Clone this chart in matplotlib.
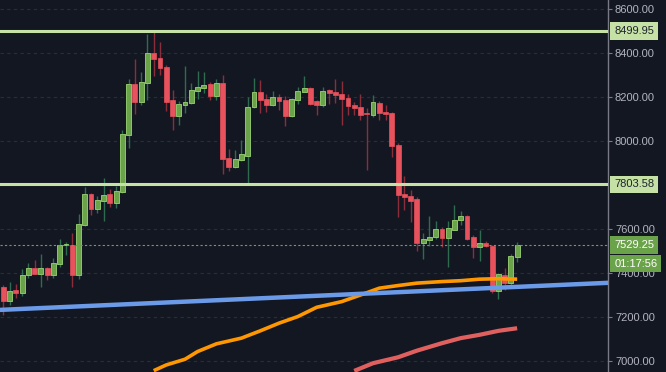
import matplotlib
matplotlib.use("Agg")
import matplotlib.pyplot as plt
from matplotlib.patches import Rectangle

# OHLC de las velas
opens = [7338, 7274, 7324, 7312, 7392, 7424, 7398, 7424, 7392, 7444,
         7527, 7527, 7392, 7621, 7760, 7692, 7729, 7760, 7720, 7770,
         8029, 8260, 8179, 8265, 8401, 8379, 8338, 8188, 8115, 8165,
         8174, 8229, 8242, 8260, 8206, 8265, 7924, 7883, 7915, 7933,
         8156, 8224, 8192, 8165, 8201, 8188, 8115, 8188, 8224, 8242,
         8183, 8165, 8233, 8224, 8215, 8197, 8165, 8156, 8124, 8120,
         8174, 8133, 8129, 7983, 7760, 7751, 7738, 7538, 7551, 7565,
         7601, 7560, 7597, 7642, 7661, 7565, 7520, 7538, 7524, 7320,
         7392, 7356, 7474]
closes = [7274, 7320, 7312, 7392, 7424, 7398, 7424, 7392, 7445, 7527,
          7528, 7392, 7624, 7760, 7692, 7733, 7756, 7720, 7774, 8033,
          8260, 8179, 8270, 8401, 8374, 8333, 8179, 8115, 8170, 8179,
          8233, 8247, 8256, 8206, 8265, 7920, 7883, 7920, 7942, 8156,
          8224, 8188, 8165, 8201, 8183, 8115, 8192, 8229, 8242, 8170,
          8165, 8229, 8220, 8210, 8192, 8161, 8151, 8120, 8123, 8179,
          8129, 8124, 7979, 7756, 7747, 7729, 7538, 7556, 7565, 7601,
          7560, 7606, 7642, 7661, 7556, 7520, 7538, 7524, 7320, 7397,
          7356, 7479, 7529.25]
highs = [7345, 7360, 7351, 7418, 7445, 7460, 7488, 7428, 7471, 7556,
         7542, 7585, 7670, 7792, 7765, 7751, 7833, 7783, 7797, 8051,
         8283, 8374, 8315, 8488, 8497, 8452, 8345, 8233, 8183, 8342,
         8265, 8320, 8315, 8270, 8283, 8301, 7965, 7960, 8006, 8202,
         8288, 8279, 8215, 8229, 8215, 8206, 8198, 8247, 8297, 8247,
         8188, 8247, 8238, 8283, 8274, 8215, 8179, 8215, 8151, 8210,
         8183, 8165, 8133, 7990, 7842, 7779, 7745, 7583, 7661, 7638,
         7610, 7638, 7711, 7683, 7665, 7574, 7597, 7545, 7530, 7400,
         7424, 7488, 7542]
lows = [7210, 7256, 7289, 7297, 7380, 7395, 7339, 7370, 7380, 7430,
        7483, 7339, 7375, 7615, 7665, 7676, 7639, 7701, 7697, 7765,
        7970, 8124, 8165, 8188, 8297, 8302, 8138, 8051, 8074, 8129,
        8170, 8192, 8220, 8188, 8188, 7851, 7865, 7880, 7910, 7806,
        8150, 8129, 8133, 8160, 8142, 8069, 8110, 8170, 8235, 8165,
        8120, 8156, 8170, 8174, 8074, 8120, 8120, 8097, 7869, 8110,
        8097, 8097, 7929, 7656, 7688, 7633, 7501, 7465, 7524, 7555,
        7520, 7429, 7597, 7620, 7550, 7470, 7456, 7517, 7310, 7283,
        7324, 7340, 7451]

# niveles horizontales y precio actual
niveles = [8499.95, 7803.58]
precio_actual = 7529.25
cuenta_atras = "01:17:56"

# linea de tendencia (dos puntos)
tend_x = [0, 82]
tend_y = [7234, 7338]

# medias moviles (indice de vela, valor)
ma_naranja_x = [24, 26, 29, 31, 34, 38, 41, 44, 47, 50, 54, 57, 60, 63, 66, 70, 73, 76, 79, 82]
ma_naranja_y = [6957, 6983, 7009, 7044, 7079, 7105, 7138, 7173, 7203, 7245, 7271, 7301, 7332, 7344, 7355, 7362, 7366, 7373, 7375, 7373]
ma_roja_x = [56, 59, 63, 66, 70, 73, 76, 79, 82]
ma_roja_y = [6956, 6991, 7018, 7048, 7082, 7105, 7120, 7138, 7150]

# marcas del eje de precios (7800 queda tapada por la etiqueta del nivel)
grid_y = list(range(7000, 8800, 200))
ticks_y = [7000, 7200, 7400, 7600, 8000, 8200, 8400, 8600]

bg = "#131722"
verde, verde_borde, verde_mecha = "#6ba34a", "#8fc46b", "#2e6b4f"
rojo, rojo_mecha = "#e8525d", "#8b2e3c"
nivel_color = "#c5e1a5"

fig = plt.figure(figsize=(6.66, 3.72), dpi=100, facecolor=bg)
ax = fig.add_axes([0, 0, 608 / 666, 1])
ax.set_facecolor(bg)

for y in grid_y:
    ax.axhline(y, color="#2a2e39", lw=0.8, ls=(0, (3, 3)), zorder=1)

# velas
ancho = 0.78
for i in range(len(opens)):
    o, c, h, l = opens[i], closes[i], highs[i], lows[i]
    sube = c >= o
    ax.vlines(i, l, h, color=verde_mecha if sube else rojo_mecha, lw=1, zorder=3)
    cuerpo = max(abs(c - o), 4)
    if sube:
        ax.add_patch(Rectangle((i - ancho / 2, min(o, c)), ancho, cuerpo,
                               facecolor=verde, edgecolor=verde_borde, lw=0.7, zorder=4))
    else:
        ax.add_patch(Rectangle((i - ancho / 2, min(o, c)), ancho, cuerpo,
                               facecolor=rojo, edgecolor=rojo, lw=0.5, zorder=4))

ax.plot(ma_naranja_x, ma_naranja_y, color="#ff9800", lw=2.6, zorder=5, solid_capstyle="butt")
ax.plot(ma_roja_x, ma_roja_y, color="#e06060", lw=3, zorder=5, solid_capstyle="butt")
ax.axline((tend_x[0], tend_y[0]), (tend_x[1], tend_y[1]), color="#6b9be8", lw=3.2, zorder=6)

for n in niveles:
    ax.axhline(n, color=nivel_color, lw=2.2, zorder=6)
ax.axhline(precio_actual, color="#6ba34a", lw=0.8, ls=(0, (2, 2)), zorder=6)

ax.set_xlim(-0.53, 96.5)
ax.set_ylim(6951, 8642)
ax.set_xticks([])
ax.yaxis.tick_right()
ax.set_yticks(ticks_y)
ax.set_yticklabels([f"{v:.2f}" for v in ticks_y])
ax.tick_params(axis="y", colors="#787b86", labelcolor="#b2b5be", labelsize=8,
               length=3, width=0.8, pad=2)
for lab in ax.get_yticklabels():
    lab.set_fontfamily("Liberation Sans")
for s in ["top", "bottom", "left"]:
    ax.spines[s].set_visible(False)
ax.spines["right"].set_color("#787b86")
ax.spines["right"].set_linewidth(1)

# etiquetas de precio en el eje
def etiqueta(y, texto, fondo, color_txt, dy=0):
    ax.annotate(texto, xy=(1, y), xycoords=("axes fraction", "data"),
                xytext=(4.5, dy), textcoords="offset points", va="center", ha="left",
                fontsize=8, family="Liberation Sans", color=color_txt, zorder=10,
                annotation_clip=False,
                bbox=dict(boxstyle="square,pad=0.35", fc=fondo, ec="none"))

for n in niveles:
    etiqueta(n, f"{n:.2f}", nivel_color, "#1e222d")
etiqueta(precio_actual, f"{precio_actual:.2f}", "#6ba34a", "white")
etiqueta(precio_actual, cuenta_atras, "#6ba34a", "white", dy=-13.5)

fig.savefig("out.png", dpi=100, facecolor=bg)
